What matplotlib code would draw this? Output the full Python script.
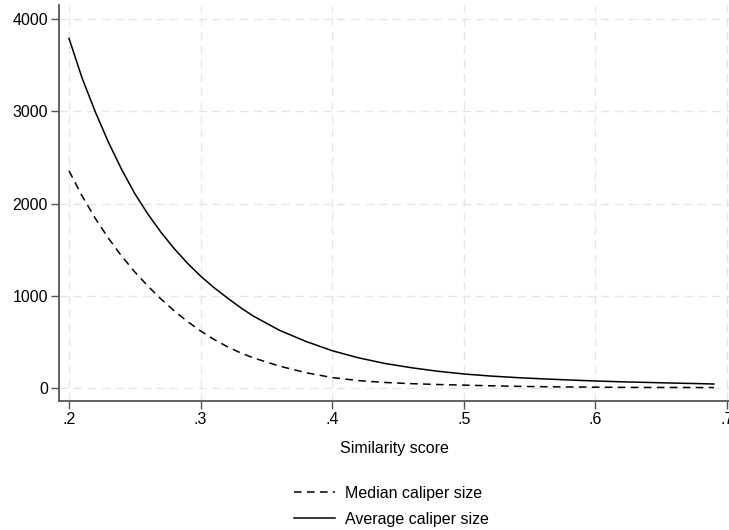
import matplotlib
matplotlib.use("Agg")
import matplotlib.pyplot as plt

plt.rcParams["font.family"] = ["Liberation Sans", "DejaVu Sans"]

# Similarity score values (x) and caliper sizes
score = [0.20, 0.21, 0.22, 0.23, 0.24, 0.25, 0.26, 0.27, 0.28, 0.29,
         0.30, 0.31, 0.32, 0.33, 0.34, 0.36, 0.38, 0.40, 0.42, 0.44,
         0.46, 0.48, 0.50, 0.52, 0.54, 0.56, 0.58, 0.60, 0.62, 0.64,
         0.66, 0.68, 0.69]
median_caliper = [2355, 2080, 1838, 1622, 1430, 1258, 1104, 963, 836, 721,
                  618, 528, 450, 383, 327, 237, 166, 113, 80, 60,
                  47, 38, 31, 24, 18, 14, 11, 9, 7, 6,
                  6, 5, 5]
average_caliper = [3790, 3358, 2993, 2663, 2369, 2107, 1884, 1686, 1510, 1353,
                   1213, 1090, 980, 875, 780, 625, 505, 404, 327, 266,
                   220, 182, 152, 130, 113, 99, 87, 76, 67, 60,
                   53, 47, 43]

x_ticks = [0.2, 0.3, 0.4, 0.5, 0.6, 0.7]
x_tick_labels = [".2", ".3", ".4", ".5", ".6", ".7"]
y_ticks = [0, 1000, 2000, 3000, 4000]

fig = plt.figure(figsize=(7.29, 5.30), dpi=100)
ax = fig.add_axes([59 / 729, 129 / 530, 670 / 729, 396 / 530])

ax.plot(score, median_caliper, color="black", lw=1.1, dashes=(5, 3.5),
        label="Median caliper size")
ax.plot(score, average_caliper, color="black", lw=1.1,
        label="Average caliper size")

ax.set_xlim(0.1924, 0.7015)
ax.set_ylim(-141, 4152)
ax.set_xticks(x_ticks)
ax.set_xticklabels(x_tick_labels)
ax.set_yticks(y_ticks)

ax.grid(True, color="#e6e6e6", lw=1.0, ls=(0, (6, 4)))
ax.set_axisbelow(True)

for side in ["top", "right"]:
    ax.spines[side].set_visible(False)
for side in ["left", "bottom"]:
    ax.spines[side].set_color("#555555")
    ax.spines[side].set_linewidth(1.3)

ax.tick_params(axis="both", length=6, width=1, color="#555555",
               labelsize=11.5, pad=2)
ax.set_xlabel("Similarity score", fontsize=11.5, labelpad=10)

fig.legend(loc="upper center", bbox_to_anchor=(391 / 729, 52 / 530),
           ncol=1, frameon=False, fontsize=11.5, handlelength=2.6,
           handletextpad=0.6, labelspacing=0.68, borderpad=0)

fig.savefig("out.png", dpi=100)
plt.close("all")
